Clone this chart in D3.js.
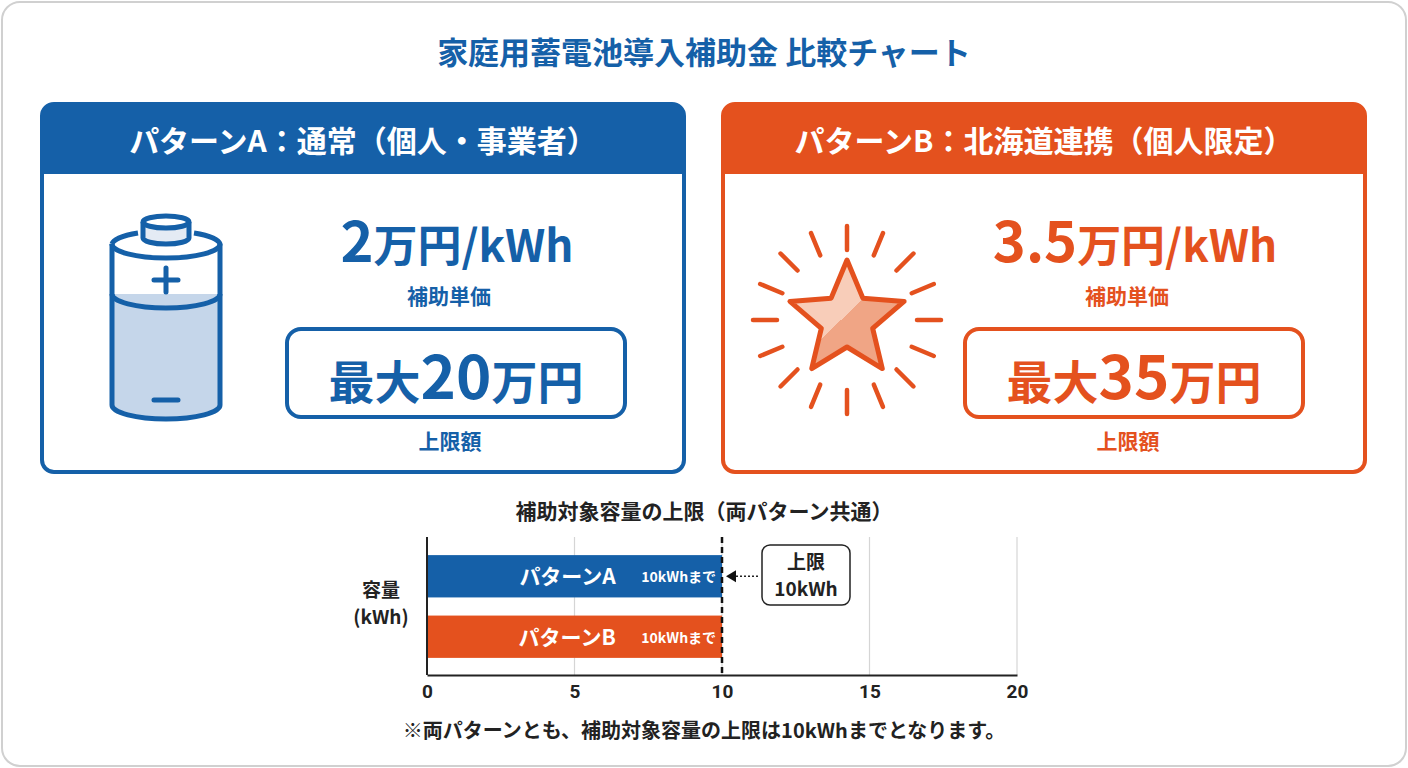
<!DOCTYPE html>
<html><head><meta charset="utf-8">
<script src="https://cdn.jsdelivr.net/npm/d3@7"></script>
<style>body{margin:0;background:#fff}svg{display:block;font-family:"Noto Sans CJK JP","Noto Sans",sans-serif}</style>
</head><body><svg id="c" width="1408" height="768"></svg>
<script>
const categories = ["パターンA", "パターンB"];
const capacityValues = [10, 10];
const barNotes = ["10kWhまで", "10kWhまで"];
const xTicks = [0, 5, 10, 15, 20];
const limitValue = 10;
const unitPrices = ["2", "3.5"];
const maxAmounts = ["20", "35"];
const cardTitles = ["パターンA：通常（個人・事業者）", "パターンB：北海道連携（個人限定）"];

const BLUE = "#1560a8", ORANGE = "#e4511e";
const svg = d3.select("#c");
svg.append("rect").attr("x",2).attr("y",2).attr("width",1404).attr("height",764).attr("rx",18)
  .attr("fill","#fff").attr("stroke","#d0d0d0").attr("stroke-width",2);
svg.append("text").attr("x",704).attr("y",64).attr("text-anchor","middle").attr("font-size",31)
  .attr("font-weight",700).attr("fill",BLUE).text("家庭用蓄電池導入補助金 比較チャート");

const cards = [{x:42,c:BLUE,light:"#c5d6ea"},{x:723,c:ORANGE,light:"#f4b9a2"}];
cards.forEach((cd,i)=>{
  const g = svg.append("g").attr("transform",`translate(${cd.x},104)`);
  g.append("rect").attr("width",642).attr("height",368).attr("rx",12).attr("fill","#fff").attr("stroke",cd.c).attr("stroke-width",4);
  g.append("path").attr("d","M0,12 A12,12 0 0 1 12,0 H630 A12,12 0 0 1 642,12 V70 H0 Z").attr("fill",cd.c);
  g.append("text").attr("x",321).attr("y",48).attr("text-anchor","middle").attr("font-size",30).attr("font-weight",700).attr("fill","#fff").text(cardTitles[i]);
  const cx = i===0?415:412;
  const t = g.append("text").attr("x",cx).attr("y",158).attr("text-anchor","middle").attr("fill",cd.c).attr("font-weight",700);
  t.append("tspan").attr("font-size",56).text(unitPrices[i]);
  t.append("tspan").attr("font-size",44).text("万円/kWh");
  g.append("text").attr("x",cx-8).attr("y",200).attr("text-anchor","middle").attr("font-size",21).attr("font-weight",700).attr("fill",cd.c).text("補助単価");
  const bx = i===0?245:242;
  g.append("rect").attr("x",bx).attr("y",225).attr("width",338).attr("height",88).attr("rx",14).attr("fill","#fff").attr("stroke",cd.c).attr("stroke-width",4);
  const t2 = g.append("text").attr("x",bx+169).attr("y",295).attr("text-anchor","middle").attr("fill",cd.c).attr("font-weight",700);
  t2.append("tspan").attr("font-size",46).text("最大");
  t2.append("tspan").attr("font-size",60).text(maxAmounts[i]);
  t2.append("tspan").attr("font-size",46).text("万円");
  g.append("text").attr("x",bx+163).attr("y",345).attr("text-anchor","middle").attr("font-size",21).attr("font-weight",700).attr("fill",cd.c).text("上限額");
});

// battery icon
const bat = svg.append("g").attr("fill","none").attr("stroke",BLUE).attr("stroke-width",5);
bat.append("path").attr("d","M112,294 V405 A54,14 0 0 0 220,405 V294 Z").attr("fill","#c5d6ea").attr("stroke","none");
bat.append("path").attr("d","M112,244 V405 A54,14 0 0 0 220,405 V244");
bat.append("path").attr("d","M112,244 A54,14 0 0 1 138,233 M194,233 A54,14 0 0 1 220,244 A54,14 0 0 1 112,244");
bat.append("path").attr("d","M112,294 A54,14 0 0 0 220,294");
bat.append("path").attr("d","M143,222 V238 A23,6 0 0 0 189,238 V222").attr("fill","#e4ebf4");
bat.append("ellipse").attr("cx",166).attr("cy",222).attr("rx",23).attr("ry",6).attr("fill","#fff");
bat.append("path").attr("d","M166,268 V292 M154,280 H178 M154,400 H178").attr("stroke-linecap","round").attr("stroke-width",5);

// star icon
const sc = [847,320];
const sg = svg.append("g").attr("transform",`translate(${sc})`);
d3.range(16).forEach(k=>{
  const a = k*Math.PI/8;
  sg.append("line").attr("x1",70*Math.sin(a)).attr("y1",-70*Math.cos(a)).attr("x2",94*Math.sin(a)).attr("y2",-94*Math.cos(a))
    .attr("stroke",ORANGE).attr("stroke-width",4.5).attr("stroke-linecap","round");
});
const pts = d3.range(10).map(k=>{const r=k%2?27:60,a=k*Math.PI/5;return [r*Math.sin(a),-r*Math.cos(a)];});
const defs = svg.append("defs");
const gr = defs.append("linearGradient").attr("id","sg").attr("x1","0").attr("y1","0").attr("x2","1").attr("y2","1");
gr.append("stop").attr("offset","0.5").attr("stop-color","#f8cdb9");
gr.append("stop").attr("offset","0.5").attr("stop-color","#f0a585");
sg.append("polygon").attr("points",pts.join(" ")).attr("fill","url(#sg)").attr("stroke",ORANGE).attr("stroke-width",5).attr("stroke-linejoin","round");

// bar chart
svg.append("text").attr("x",704).attr("y",519).attr("text-anchor","middle").attr("font-size",21).attr("font-weight",700).attr("fill","#222").text("補助対象容量の上限（両パターン共通）");
const x = d3.scaleLinear().domain([0,20]).range([427,1017]);
const y = d3.scaleBand().domain(categories).range([540,673]).paddingInner(0.3).paddingOuter(0.25);
svg.append("g").selectAll("line").data(xTicks.slice(1)).join("line").attr("x1",d=>x(d)).attr("x2",d=>x(d)).attr("y1",537).attr("y2",675).attr("stroke","#d5d5d5").attr("stroke-width",1.2);
svg.append("g").selectAll("rect").data(categories).join("rect").attr("x",x(0)).attr("y",d=>y(d)).attr("width",(d,i)=>x(capacityValues[i])-x(0)).attr("height",y.bandwidth()).attr("fill",(d,i)=>i?ORANGE:BLUE);
categories.forEach((c,i)=>{
  svg.append("text").attr("x",x(6.4)).attr("y",y(c)+y.bandwidth()/2+8).attr("text-anchor","end").attr("font-size",21).attr("font-weight",700).attr("fill","#fff").text(c);
  svg.append("text").attr("x",x(9.8)).attr("y",y(c)+y.bandwidth()/2+6).attr("text-anchor","end").attr("font-size",14).attr("font-weight",700).attr("fill","#fff").text(barNotes[i]);
});
const ax = svg.append("g").attr("transform","translate(0,675)").call(d3.axisBottom(x).tickValues(xTicks).tickSize(0).tickPadding(10));
ax.select(".domain").attr("stroke","#222").attr("stroke-width",2);
ax.selectAll("text").attr("font-size",19).attr("font-weight",700).attr("fill","#222").attr("font-family","Roboto,sans-serif");
svg.append("line").attr("x1",427).attr("x2",427).attr("y1",537).attr("y2",675).attr("stroke","#222").attr("stroke-width",2);
svg.append("line").attr("x1",x(limitValue)).attr("x2",x(limitValue)).attr("y1",537).attr("y2",675).attr("stroke","#111").attr("stroke-width",2.5).attr("stroke-dasharray","6,4");
svg.append("text").attr("x",381).attr("y",597).attr("text-anchor","middle").attr("font-size",19).attr("font-weight",700).attr("fill","#222").text("容量");
svg.append("text").attr("x",381).attr("y",624).attr("text-anchor","middle").attr("font-size",19).attr("font-weight",700).attr("fill","#222").text("(kWh)");
// annotation
svg.append("rect").attr("x",762).attr("y",545).attr("width",88).attr("height",60).attr("rx",8).attr("fill","#fff").attr("stroke","#222").attr("stroke-width",1.5);
svg.append("text").attr("x",806).attr("y",569).attr("text-anchor","middle").attr("font-size",19).attr("font-weight",700).attr("fill","#222").text("上限");
svg.append("text").attr("x",806).attr("y",596).attr("text-anchor","middle").attr("font-size",19).attr("font-weight",700).attr("fill","#222").text("10kWh");
const ay = y(categories[0])+y.bandwidth()/2;
svg.append("line").attr("x1",x(limitValue)+14).attr("x2",760).attr("y1",ay).attr("y2",ay).attr("stroke","#222").attr("stroke-width",1.5).attr("stroke-dasharray","2,2");
svg.append("path").attr("d",`M${x(limitValue)+4},${ay} l10,-6 v12 z`).attr("fill","#111");
svg.append("text").attr("x",704).attr("y",738).attr("text-anchor","middle").attr("font-size",20).attr("font-weight",700).attr("fill","#222").text("※両パターンとも、補助対象容量の上限は10kWhまでとなります。");
</script></body></html>
